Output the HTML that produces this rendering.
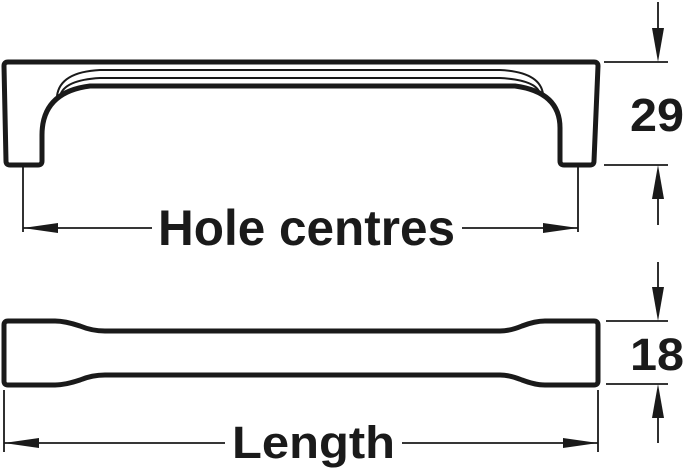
<!DOCTYPE html>
<html><head><style>html,body{margin:0;padding:0;background:#fff;}svg{display:block}</style></head><body>
<svg width="700" height="475" viewBox="0 0 700 475" xmlns="http://www.w3.org/2000/svg">
<g fill="none" stroke="#1a1a1a" stroke-linejoin="round">
<!-- top handle outline -->
<path d="M8 62 L594 62 Q598 62 598 66 L594 161 Q594 165 590 165 L564 165 Q560 165 560 161 L560 128 Q560 92 515 86 L90 86 Q42 92 42 135 L42 161 Q42 165 38 165 L10 165 Q6 165 6 161 L4 66 Q4 62 8 62 Z" stroke-width="5"/>
<!-- ribs -->
<path d="M57 96 Q60 72 100 70 L500 70 Q540 72 543 94" stroke-width="2"/>
<path d="M60 96 Q64 80 100 78 L500 78 Q537 80 540 94" stroke-width="2"/>
<!-- bottom handle -->
<path d="M8 321 L55 321 Q65 321 80 326 Q92 331 105 331 L500 331 Q510 331 522 326 Q535 321 545 321 L594 321 Q598 321 598 325 L598 381 Q598 385 594 385 L545 385 Q535 385 522 380 Q510 375 500 375 L105 375 Q92 375 80 380 Q65 385 55 385 L8 385 Q4 385 4 381 L4 325 Q4 321 8 321 Z" stroke-width="5"/>
</g>
<g stroke="#1a1a1a" stroke-width="1.8">
<line x1="23" y1="167" x2="23" y2="232"/>
<line x1="578" y1="167" x2="578" y2="232"/>
<line x1="23" y1="228" x2="152" y2="228"/>
<line x1="462" y1="228" x2="578" y2="228"/>
<line x1="4" y1="390" x2="4" y2="452"/>
<line x1="598" y1="390" x2="598" y2="452"/>
<line x1="4" y1="443" x2="225" y2="443"/>
<line x1="402" y1="443" x2="598" y2="443"/>
<line x1="604" y1="62" x2="668" y2="62"/>
<line x1="604" y1="165" x2="668" y2="165"/>
<line x1="658" y1="2" x2="658" y2="50"/>
<line x1="658" y1="178" x2="658" y2="225"/>
<line x1="606" y1="321" x2="668" y2="321"/>
<line x1="606" y1="384" x2="668" y2="384"/>
<line x1="658" y1="262" x2="658" y2="310"/>
<line x1="658" y1="396" x2="658" y2="443"/>
</g>
<g fill="#1a1a1a">
<polygon points="23,228 58,223 58,233"/>
<polygon points="578,228 543,223 543,233"/>
<polygon points="4,443 39,438 39,448"/>
<polygon points="598,443 563,438 563,448"/>
<polygon points="658,62 652,28 664,28"/>
<polygon points="658,165 652,199 664,199"/>
<polygon points="658,321 652,287 664,287"/>
<polygon points="658,384 652,418 664,418"/>
</g>
<g font-family="Liberation Sans, sans-serif" font-weight="bold" fill="#1a1a1a">
<text x="158" y="245" font-size="50" textLength="297" lengthAdjust="spacingAndGlyphs">Hole centres</text>
<text x="232" y="458" font-size="45" textLength="163" lengthAdjust="spacingAndGlyphs">Length</text>
<text x="630" y="131" font-size="46" textLength="54" lengthAdjust="spacingAndGlyphs">29</text>
<text x="630" y="370" font-size="45" textLength="54" lengthAdjust="spacingAndGlyphs">18</text>
</g>
</svg>
</body></html>
